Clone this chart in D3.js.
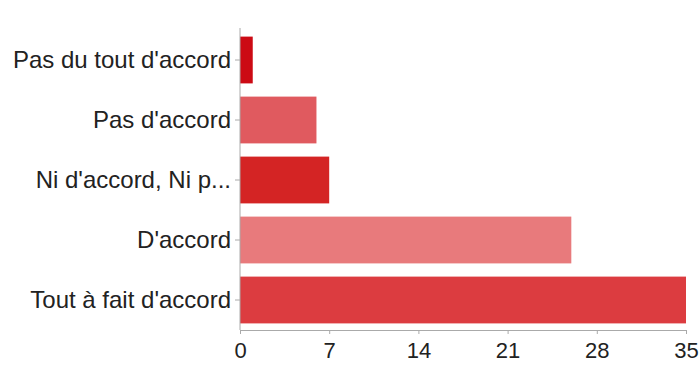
<!DOCTYPE html>
<html><head><meta charset="utf-8">
<script src="https://cdn.jsdelivr.net/npm/d3@7/dist/d3.min.js"></script>
<style>
html,body{margin:0;padding:0;background:#fff;}
text{font-family:"Liberation Sans",Arial,sans-serif;}
</style></head>
<body>
<svg id="chart" width="700" height="365"></svg>
<script>
const categories = ["Pas du tout d'accord","Pas d'accord","Ni d'accord, Ni p...","D'accord","Tout à fait d'accord"];
const values = [1, 6, 7, 26, 35];
const colors = ["#cc0a14","#e05a5f","#d42424","#e87a7c","#dc3c40"];
const xTicks = [0, 7, 14, 21, 28, 35];

const svg = d3.select("#chart");
const x = d3.scaleLinear().domain([0, 35]).range([240, 686]);
const y = d3.scaleBand().domain(categories).range([30, 330]).paddingInner(0.22).paddingOuter(0.11);

svg.selectAll("rect.bar").data(values).enter().append("rect")
  .attr("class","bar")
  .attr("x", x(0))
  .attr("y", (d,i) => y(categories[i]))
  .attr("width", d => x(d) - x(0))
  .attr("height", y.bandwidth())
  .attr("fill", (d,i) => colors[i]);

// Left axis
const yAxis = svg.append("g").attr("transform", `translate(${x(0)},0)`)
  .call(d3.axisLeft(y).tickSize(5).tickPadding(4).tickSizeOuter(0));
yAxis.select(".domain").attr("stroke","#aaa").attr("d", `M0,28V330`);
yAxis.selectAll(".tick line").attr("stroke","#aaa");
yAxis.selectAll(".tick text").attr("font-size", 24).attr("fill","#222")
  .style("font-family",'"Liberation Sans",Arial,sans-serif');

// Bottom axis
const xAxis = svg.append("g").attr("transform", `translate(0,330)`)
  .call(d3.axisBottom(x).tickValues(xTicks).tickSize(4).tickPadding(8).tickSizeOuter(0));
xAxis.select(".domain").attr("stroke","#aaa");
xAxis.selectAll(".tick line").attr("stroke","#aaa");
xAxis.selectAll(".tick text").attr("font-size", 22).attr("fill","#222")
  .style("font-family",'"Liberation Sans",Arial,sans-serif');
</script>
</body></html>
